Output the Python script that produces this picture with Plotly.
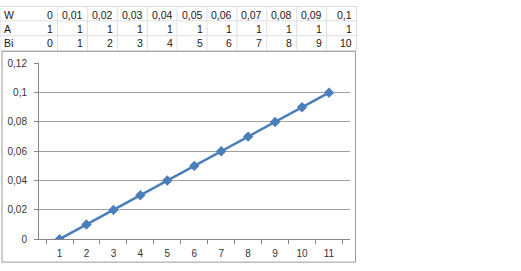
import plotly.graph_objects as go

# ---- data ----
row_labels = ["W", "A", "Bi"]
W = [0, 0.01, 0.02, 0.03, 0.04, 0.05, 0.06, 0.07, 0.08, 0.09, 0.1]
A = [1, 1, 1, 1, 1, 1, 1, 1, 1, 1, 1]
Bi = [0, 1, 2, 3, 4, 5, 6, 7, 8, 9, 10]
W_text = ["0", "0,01", "0,02", "0,03", "0,04", "0,05", "0,06", "0,07", "0,08", "0,09", "0,1"]
categories = ["1", "2", "3", "4", "5", "6", "7", "8", "9", "10", "11"]

FW, FH = 521, 271


def px(x):
    return x / FW


def py(y):
    return 1 - y / FH


fig = go.Figure()
fig.add_trace(go.Scatter(
    x=categories, y=W, mode="lines+markers",
    line=dict(color="#4A7EBB", width=2.5),
    marker=dict(symbol="diamond", size=8, color="#4A7EBB"),
    showlegend=False, hoverinfo="skip",
))

shapes = []
annotations = []
grid_col = "#DCDFE4"
# table grid
row_lines = [0.5, 15.5, 31, 46.5]
col_lines = [57.5 + 29.9 * k for k in range(11)]
for yl in row_lines:
    shapes.append(dict(type="line", xref="paper", yref="paper",
                       x0=0, x1=px(358), y0=py(yl), y1=py(yl),
                       line=dict(color=grid_col, width=1)))
for xl in [0] + col_lines:
    shapes.append(dict(type="line", xref="paper", yref="paper",
                       x0=px(xl), x1=px(xl), y0=py(0), y1=py(46.5),
                       line=dict(color=grid_col, width=1)))

row_y = [9, 24, 38.5]
rows = [W_text, [str(v) for v in A], [str(v) for v in Bi]]
tfont = dict(family="Liberation Sans, Arial", size=10.5, color="#1a1a1a")
for r, lab in enumerate(row_labels):
    annotations.append(dict(text=lab, xref="paper", yref="paper",
                            x=px(2), y=py(row_y[r]), xanchor="left", yanchor="middle",
                            showarrow=False, font=tfont))
    for k, t in enumerate(rows[r]):
        annotations.append(dict(text=t, xref="paper", yref="paper",
                                x=px(55 + 29.9 * k), y=py(row_y[r]),
                                xanchor="right", yanchor="middle",
                                showarrow=False, font=tfont))

# chart box
shapes.append(dict(type="rect", xref="paper", yref="paper",
                   x0=px(2), x1=px(355.5), y0=py(268), y1=py(47.5),
                   line=dict(color="#9A9A9A", width=1), fillcolor="rgba(0,0,0,0)",
                   layer="below"))

afont = dict(family="Liberation Sans, Arial", size=10, color="#333333")
fig.update_layout(
    width=FW, height=FH,
    margin=dict(l=0, r=0, t=0, b=0),
    paper_bgcolor="white", plot_bgcolor="white",
    separators=",.",
    shapes=shapes, annotations=annotations,
    xaxis=dict(domain=[px(39), px(349.5)], type="category",
               tickson="boundaries", ticks="outside", ticklen=4,
               tickcolor="#868686", showline=True, linecolor="#868686",
               showgrid=False, tickfont=afont, ticklabelstandoff=5,
               fixedrange=True),
    yaxis=dict(domain=[py(244), py(60)], range=[0, 0.12], dtick=0.02,
               ticks="outside", ticklen=4, tickcolor="#868686",
               showline=True, linecolor="#868686", zeroline=False,
               showgrid=True, gridcolor="#A0A0A0", gridwidth=1,
               tickfont=afont, ticklabelstandoff=5,
               fixedrange=True),
)

fig.write_html("out.html")
